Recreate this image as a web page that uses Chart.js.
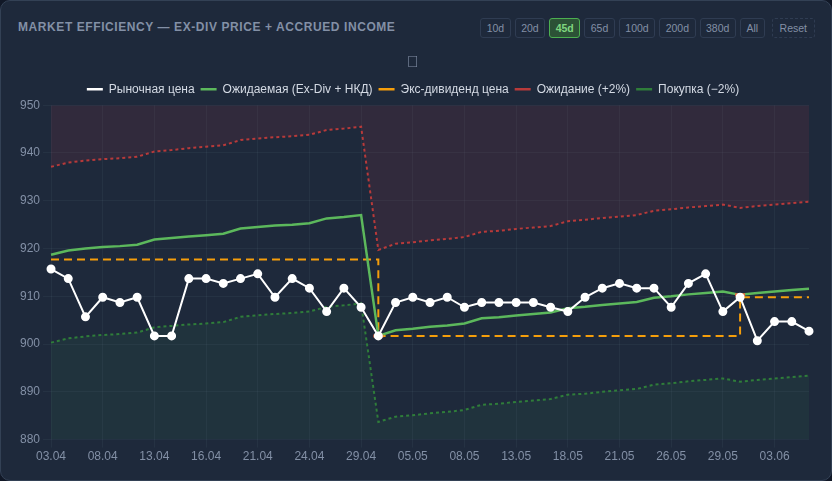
<!DOCTYPE html>
<html>
<head>
<meta charset="utf-8">
<script src="https://cdn.jsdelivr.net/npm/chart.js@4.4.0/dist/chart.umd.min.js"></script>
<style>
  html, body { margin: 0; padding: 0; background: #111827; }
  .card {
    position: absolute; left: 0; top: 0; width: 830px; height: 479px;
    background: #1e293b; border: 1px solid #334155; border-radius: 10px;
    font-family: "Liberation Sans", Arial, sans-serif; overflow: hidden;
  }
  .title {
    position: absolute; left: 17px; top: 19px;
    font-size: 12px; font-weight: bold; letter-spacing: 0.58px; color: #8390a6;
  }
  .ranges { position: absolute; right: 16px; top: 17px; display: flex; gap: 4px; }
  .ranges button {
    font-family: inherit; font-size: 10.5px; color: #8390a6; background: #1e293b;
    border: 1px solid #2f3c52; border-radius: 3px; height: 20px; padding: 0 5.5px; cursor: pointer;
  }
  .ranges button.active { background: #2c5236; border-color: #4caf50; color: #7fd67f; font-weight: bold; }
  .ranges button.reset { border-style: dashed; margin-left: 3px; padding: 0 7px; }
  .chart-wrap { position: absolute; left: 0; top: 44px; width: 830px; height: 432px; }
</style>
</head>
<body>
<div class="card">
  <div class="title">MARKET EFFICIENCY — EX-DIV PRICE + ACCRUED INCOME</div>
  <div class="ranges">
    <button>10d</button><button>20d</button><button class="active">45d</button><button>65d</button>
    <button>100d</button><button>200d</button><button>380d</button><button>All</button>
    <button class="reset">Reset</button>
  </div>
  <div class="chart-wrap"><canvas id="chart"></canvas></div>
</div>
<script>
const labels = ["03.04", "04.04", "07.04", "08.04", "09.04", "11.04", "13.04", "14.04", "15.04", "16.04",
  "17.04", "18.04", "21.04", "22.04", "23.04", "24.04", "25.04", "28.04", "29.04", "30.04",
  "02.05", "05.05", "06.05", "07.05", "08.05", "11.05", "12.05", "13.05", "14.05", "15.05",
  "18.05", "19.05", "20.05", "21.05", "22.05", "23.05", "26.05", "27.05", "28.05", "29.05",
  "30.05", "02.06", "03.06", "04.06", "05.06"];

const marketPrice = [915.7, 913.7, 905.7, 909.8, 908.7, 909.8, 901.7, 901.7, 913.7, 913.7,
  912.7, 913.7, 914.7, 909.8, 913.7, 911.7, 906.8, 911.7, 907.7, 901.7,
  908.7, 909.8, 908.7, 909.8, 907.7, 908.7, 908.7, 908.7, 908.7, 907.7,
  906.8, 909.8, 911.7, 912.7, 911.7, 911.7, 907.7, 912.7, 914.7, 906.8,
  909.8, 900.7, 904.7, 904.7, 902.7];

const expectedPrice = [918.7, 919.6, 920.0, 920.3, 920.5, 920.8, 921.9, 922.2, 922.5, 922.8,
  923.1, 924.2, 924.5, 924.8, 925.0, 925.3, 926.3, 926.6, 927.0, 901.7,
  902.9, 903.2, 903.6, 903.9, 904.3, 905.4, 905.6, 906.0, 906.3, 906.6,
  907.5, 907.8, 908.2, 908.5, 908.8, 909.7, 910.0, 910.4, 910.7, 911.0,
  910.3, 910.7, 911.0, 911.3, 911.6];

const exDivPrice = [917.7, 917.7, 917.7, 917.7, 917.7, 917.7, 917.7, 917.7, 917.7, 917.7,
  917.7, 917.7, 917.7, 917.7, 917.7, 917.7, 917.7, 917.7, 917.7, 901.7,
  901.7, 901.7, 901.7, 901.7, 901.7, 901.7, 901.7, 901.7, 901.7, 901.7,
  901.7, 901.7, 901.7, 901.7, 901.7, 901.7, 901.7, 901.7, 901.7, 901.7,
  909.8, 909.8, 909.8, 909.8, 909.8];

const upperBand = [937.1, 938.0, 938.4, 938.7, 938.9, 939.2, 940.3, 940.6, 941.0, 941.3,
  941.6, 942.7, 943.0, 943.3, 943.5, 943.8, 944.8, 945.1, 945.5, 919.7,
  921.0, 921.3, 921.7, 922.0, 922.4, 923.5, 923.7, 924.1, 924.4, 924.7,
  925.7, 926.0, 926.4, 926.7, 927.0, 927.9, 928.2, 928.6, 928.9, 929.2,
  928.5, 928.9, 929.2, 929.5, 929.8];

const lowerBand = [900.3, 901.2, 901.6, 901.9, 902.1, 902.4, 903.5, 903.8, 904.1, 904.3,
  904.6, 905.7, 906.0, 906.3, 906.5, 906.8, 907.8, 908.1, 908.5, 883.7,
  884.8, 885.1, 885.5, 885.8, 886.2, 887.3, 887.5, 887.9, 888.2, 888.5,
  889.4, 889.6, 890.0, 890.3, 890.6, 891.5, 891.8, 892.2, 892.5, 892.8,
  892.1, 892.5, 892.8, 893.1, 893.4];

const exDivDays = [19, 40];
const labelEvery = 3;

const tickColor = "#8390a6";
const gridColor = "rgba(148, 163, 184, 0.07)";
const fontFamily = "'Liberation Sans', Arial, sans-serif";

const ctx = document.getElementById("chart").getContext("2d");
new Chart(ctx, {
  type: "line",
  data: {
    labels: labels,
    datasets: [
      {
        label: "Рыночная цена",
        data: marketPrice,
        borderColor: "#ffffff",
        backgroundColor: "#ffffff",
        borderWidth: 2,
        pointRadius: 3.5,
        pointBackgroundColor: "#ffffff",
        pointBorderColor: "#ffffff",
        tension: 0,
      },
      {
        label: "Ожидаемая (Ex-Div + НКД)",
        data: expectedPrice,
        borderColor: "#5cb85c",
        backgroundColor: "#5cb85c",
        borderWidth: 2.5,
        pointStyle: "line",
        pointRadius: (c) => (exDivDays.includes(c.dataIndex) ? 5 : 0),
        pointBorderColor: "#e8643c",
        pointBorderWidth: 3,
        tension: 0,
      },
      {
        label: "Экс-дивиденд цена",
        data: exDivPrice,
        borderColor: "#f59e0b",
        backgroundColor: "#f59e0b",
        borderWidth: 2,
        borderDash: [8, 5],
        pointRadius: 0,
        stepped: "before",
      },
      {
        label: "Ожидание (+2%)",
        data: upperBand,
        borderColor: "#b83a3a",
        backgroundColor: "rgba(150, 50, 70, 0.16)",
        borderWidth: 2,
        borderDash: [3, 3],
        pointRadius: 0,
        fill: "end",
      },
      {
        label: "Покупка (−2%)",
        data: lowerBand,
        borderColor: "#2f7d3a",
        backgroundColor: "rgba(50, 110, 80, 0.14)",
        borderWidth: 2,
        borderDash: [3, 3],
        pointRadius: 0,
        fill: "start",
      },
    ],
  },
  options: {
    responsive: true,
    maintainAspectRatio: false,
    animation: false,
    layout: { padding: { left: 16, right: 22, top: 0, bottom: 11 } },
    plugins: {
      title: {
        display: true,
        text: "\uF201",
        color: tickColor,
        font: { size: 16 },
        padding: { top: 8, bottom: 5 },
      },
      legend: {
        display: true,
        position: "top",
        labels: {
          color: "#d4dae4",
          font: { family: fontFamily, size: 12 },
          usePointStyle: true,
          pointStyle: "line",
          pointStyleWidth: 16,
          padding: 6,
          generateLabels: (chart) =>
            Chart.defaults.plugins.legend.labels.generateLabels(chart).map((item) => {
              const ds = chart.data.datasets[item.datasetIndex];
              item.lineDash = [];
              item.lineWidth = 2.5;
              item.strokeStyle = ds.borderColor;
              item.fillStyle = ds.borderColor;
              return item;
            }),
        },
      },
      tooltip: { enabled: false },
    },
    scales: {
      x: {
        grid: {
          color: (c) => (c.index % labelEvery === 0 ? gridColor : "transparent"),
        },
        border: { display: false },
        ticks: {
          color: tickColor,
          font: { family: fontFamily, size: 12 },
          maxRotation: 0,
          autoSkip: false,
          padding: 2,
          callback: (value, index) => (index % labelEvery === 0 ? labels[index] : ""),
        },
      },
      y: {
        min: 880,
        max: 950,
        grid: { color: gridColor },
        border: { display: false },
        ticks: {
          stepSize: 10,
          color: tickColor,
          font: { family: fontFamily, size: 12 },
        },
      },
    },
  },
});
</script>
</body>
</html>
